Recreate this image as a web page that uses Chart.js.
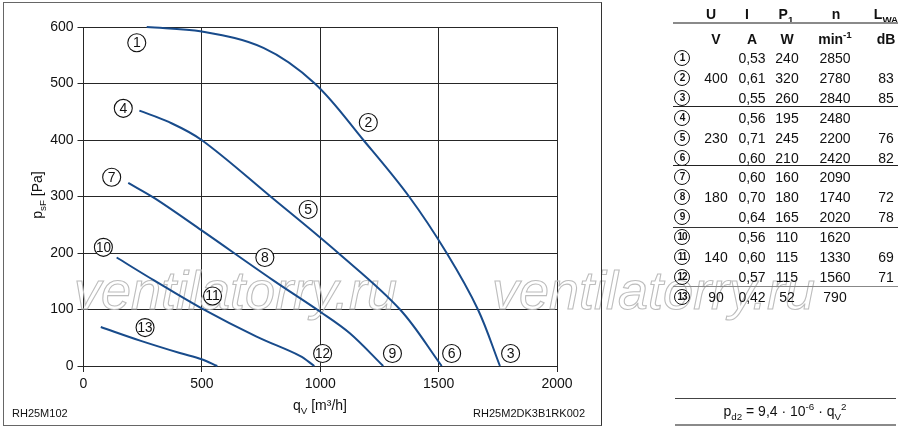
<!DOCTYPE html>
<html>
<head>
<meta charset="utf-8">
<script src="https://cdn.jsdelivr.net/npm/chart.js@4.4.0/dist/chart.umd.min.js"></script>
<style>
  html, body { margin: 0; padding: 0; background: #fff; }
  body { width: 900px; height: 429px; position: relative; overflow: hidden;
         font-family: "Liberation Sans", Arial, sans-serif; color: #111; }
  #wrap { position: absolute; left: 0; top: 0; width: 900px; height: 429px; }
  .t { position: absolute; white-space: nowrap; line-height: 1; }
  .c { transform: translateX(-50%); }
  .hl { position: absolute; height: 0; }
  .num { position: absolute; width: 14px; height: 14px; border: 1.2px solid #111; border-radius: 50%;
         font-size: 10px; font-weight: bold; line-height: 14px; text-align: center;
         transform: translate(-50%, -50%); letter-spacing: -1px; }
  sub, sup { font-size: 70%; line-height: 0; }
</style>
</head>
<body>
<div id="wrap"><canvas id="fanChart" width="900" height="429"></canvas></div>
<div id="overlay"></div>
<script>
// --- kurven (q_V in m3/h, p_sF in Pa) ---
const q400 = [267, 500, 760, 977, 1182, 1375, 1534, 1666, 1759];
const p400 = [600, 592, 563, 500, 400, 300, 200, 100, 0];
const q230 = [236, 360, 499, 790, 1076, 1337, 1513];
const p230 = [452, 432, 400, 300, 200, 100, 0];
const q180 = [189, 300, 499, 800, 1000, 1125, 1266];
const p180 = [324, 297, 240, 152, 96, 58, 0];
const q140 = [140, 300, 499, 731, 914, 975];
const p140 = [192, 151, 102, 52, 18, 0];
const q90 = [73, 239, 407, 499, 565];
const p90 = [69, 45, 23, 12, 0];

// --- beschriftung der betriebspunkte ---
const pointNums = ['1', '2', '3', '4', '5', '6', '7', '8', '9', '10', '11', '12', '13'];
const pointQ = [225, 1203, 1804, 168, 949, 1555, 119, 766, 1305, 84, 545, 1010, 260];
const pointP = [572, 431, 22, 456, 277, 22, 334, 192, 22, 210, 124, 22, 68];

// --- achsen ---
const xTicks = [0, 500, 1000, 1500, 2000];
const yTicks = [0, 100, 200, 300, 400, 500, 600];

// --- tabelle ---
const colU = ['', '400', '', '', '230', '', '', '180', '', '', '140', '', '90'];
const colI = ['0,53', '0,61', '0,55', '0,56', '0,71', '0,60', '0,60', '0,70', '0,64', '0,56', '0,60', '0,57', '0,42'];
const colP = ['240', '320', '260', '195', '245', '210', '160', '180', '165', '110', '115', '115', '52'];
const colN = ['2850', '2780', '2840', '2480', '2200', '2420', '2090', '1740', '2020', '1620', '1330', '1560', '790'];
const colL = ['', '83', '85', '', '76', '82', '', '72', '78', '', '69', '71', ''];

const curveColor = '#184b8b';
const gridColor = '#262626';

function toPoints(qs, ps) {
    return qs.map((q, i) => ({ x: q, y: ps[i] }));
}

// wasserzeichen (nach dem raster, vor den kurven)
const watermarkPlugin = {
    id: 'watermark',
    beforeDatasetsDraw(chart) {
        const ctx = chart.ctx;
        ctx.save();
        ctx.font = 'italic 300 54px "Liberation Sans", Arial, sans-serif';
        ctx.strokeStyle = '#bdbdbd';
        ctx.lineWidth = 1.1;
        ctx.textBaseline = 'alphabetic';
        ctx.strokeText('ventilatorry.ru', 74, 309);
        ctx.strokeText('ventilatorry.ru', 492, 309);
        ctx.restore();
    }
};

// nummernkreise an den kurven
const circleLabelPlugin = {
    id: 'circleLabels',
    afterDatasetsDraw(chart) {
        const ctx = chart.ctx;
        const xs = chart.scales.x, ys = chart.scales.y;
        ctx.save();
        pointNums.forEach((txt, i) => {
            const cx = xs.getPixelForValue(pointQ[i]);
            const cy = ys.getPixelForValue(pointP[i]);
            ctx.beginPath();
            ctx.arc(cx, cy, 9, 0, Math.PI * 2);
            ctx.fillStyle = '#fff';
            ctx.fill();
            ctx.lineWidth = 1.1;
            ctx.strokeStyle = '#111';
            ctx.stroke();
            ctx.fillStyle = '#111';
            ctx.font = '14px "Liberation Sans", Arial, sans-serif';
            ctx.textAlign = 'center';
            ctx.textBaseline = 'middle';
            ctx.fillText(txt, cx, cy + 0.5, 15);
        });
        ctx.restore();
    }
};

const ctx = document.getElementById('fanChart').getContext('2d');
new Chart(ctx, {
    type: 'scatter',
    data: {
        datasets: [
            { data: toPoints(q400, p400) },
            { data: toPoints(q230, p230) },
            { data: toPoints(q180, p180) },
            { data: toPoints(q140, p140) },
            { data: toPoints(q90, p90) }
        ].map(ds => Object.assign(ds, {
            showLine: true, borderColor: curveColor, borderWidth: 2, clip: false,
            pointRadius: 0, tension: 0.35, fill: false
        }))
    },
    options: {
        responsive: false, animation: false, devicePixelRatio: 1,
        layout: { padding: { left: 0, top: 27, right: 343, bottom: 0 } },
        plugins: { legend: { display: false }, tooltip: { enabled: false } },
        scales: {
            x: {
                type: 'linear', min: 0, max: 2000,
                afterFit: s => { s.height = 63; },
                afterBuildTicks: s => { s.ticks = xTicks.map(v => ({ value: v })); },
                grid: { color: gridColor, lineWidth: 1, tickLength: 6, tickColor: gridColor },
                border: { color: gridColor, width: 1 },
                ticks: { color: '#111', padding: 4, maxRotation: 0, callback: v => String(v),
                         font: { family: '"Liberation Sans", Arial, sans-serif', size: 14 } }
            },
            y: {
                type: 'linear', min: 0, max: 600,
                afterFit: s => { s.width = 83.5; },
                afterBuildTicks: s => { s.ticks = yTicks.map(v => ({ value: v })); },
                grid: { color: gridColor, lineWidth: 1, tickLength: 6, tickColor: gridColor },
                border: { color: gridColor, width: 1 },
                ticks: { color: '#111', padding: 4, callback: v => String(v),
                         font: { family: '"Liberation Sans", Arial, sans-serif', size: 14 } }
            }
        }
    },
    plugins: [watermarkPlugin, circleLabelPlugin]
});

// --- texte, rahmen und tabelle ---
const overlay = document.getElementById('overlay');
function addText(html, x, y, size, opts = {}) {
    const d = document.createElement('div');
    d.className = 't' + (opts.center ? ' c' : '');
    d.innerHTML = html;
    d.style.left = x + 'px';
    d.style.top = (y - size / 2) + 'px';
    d.style.fontSize = size + 'px';
    if (opts.bold) d.style.fontWeight = 'bold';
    if (opts.right) { d.style.left = ''; d.style.right = (900 - x) + 'px'; }
    overlay.appendChild(d);
    return d;
}
function addLine(x1, x2, y, w, color) {
    const d = document.createElement('div');
    d.className = 'hl';
    d.style.left = x1 + 'px';
    d.style.width = (x2 - x1) + 'px';
    d.style.top = (y - w / 2) + 'px';
    d.style.borderTop = w + 'px solid ' + color;
    overlay.appendChild(d);
}

// rahmen links
const frame = document.createElement('div');
frame.style.cssText = 'position:absolute;left:3px;top:2px;width:597px;height:422px;border:1px solid #666;border-right-color:#333;';
overlay.appendChild(frame);

// achsentitel
const yTitle = addText('p<sub>sF</sub> [Pa]', 37, 195, 14);
yTitle.style.transform = 'translate(-50%, 0) rotate(-90deg)';
yTitle.style.transformOrigin = '50% 50%';
addText('q<sub>V</sub> [m³/h]', 320, 405, 14, { center: true });
addText('RH25M102', 12, 413, 11);
addText('RH25M2DK3B1RK002', 585, 413, 11, { right: true });

// tabellenkopf
const colX = [682, 716, 752, 787, 835, 886];
addText('U', 711, 14, 14, { center: true, bold: true });
addText('I', 747, 14, 14, { center: true, bold: true });
addText('P<sub>1</sub>', 786, 14, 14, { center: true, bold: true });
addText('n', 836, 14, 14, { center: true, bold: true });
addText('L<sub>WA</sub>', 886, 14, 14, { center: true, bold: true });
addText('V', 716, 39, 14, { center: true, bold: true });
addText('A', 752, 39, 14, { center: true, bold: true });
addText('W', 787, 39, 14, { center: true, bold: true });
addText('min<sup>-1</sup>', 835, 39, 14, { center: true, bold: true });
addText('dB', 886, 39, 14, { center: true, bold: true });
addLine(673, 898, 23, 2, '#8a8a8a');

pointNums.forEach((n, i) => {
    const y = 58 + 19.9 * i;
    const b = document.createElement('div');
    b.className = 'num';
    b.textContent = n;
    b.style.left = colX[0] + 'px';
    b.style.top = y + 'px';
    overlay.appendChild(b);
    [colU[i], colI[i], colP[i], colN[i], colL[i]].forEach((v, k) => {
        if (v) addText(v, colX[k + 1], y, 14, { center: true });
    });
});
addLine(673, 898, 107, 1.5, '#222');
addLine(673, 898, 166, 1.5, '#222');
addLine(673, 898, 228, 1.5, '#333');
addLine(673, 898, 287, 1.5, '#888');

// formel
addLine(675, 896, 398, 1, '#444');
addLine(675, 896, 425, 2, '#8a8a8a');
addText('p<sub>d2</sub> = 9,4 · 10<sup>-6</sup> · q<sub>V</sub><sup>2</sup>', 785, 411, 14, { center: true });
</script>
</body>
</html>
